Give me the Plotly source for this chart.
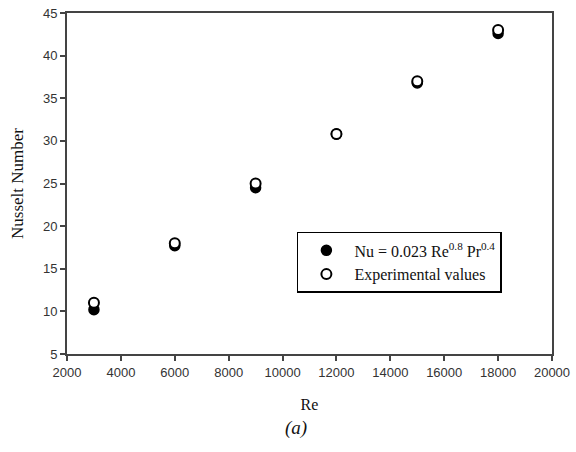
import plotly.graph_objects as go

re_values = [3000, 6000, 9000, 12000, 15000, 18000]
nu_correlation = [10.2, 17.7, 24.5, 30.8, 36.8, 42.6]
nu_experimental = [11.0, 18.0, 25.0, 30.8, 37.0, 43.0]

x_ticks = [2000, 4000, 6000, 8000, 10000, 12000, 14000, 16000, 18000, 20000]
y_ticks = [5, 10, 15, 20, 25, 30, 35, 40, 45]

fig = go.Figure()
fig.add_trace(go.Scatter(
    x=re_values, y=nu_correlation, mode="markers",
    name="Nu = 0.023 Re<sup>0.8</sup> Pr<sup>0.4</sup>", legendgroup="a",
    marker=dict(symbol="circle", size=10, color="black", line=dict(color="black", width=1.5)),
))
fig.add_trace(go.Scatter(
    x=re_values, y=nu_experimental, mode="markers",
    name="Experimental values", legendgroup="b",
    marker=dict(symbol="circle", size=10, color="white", line=dict(color="black", width=2)),
))

axis_common = dict(
    showline=True, linecolor="#444", linewidth=2, mirror=True,
    ticks="outside", ticklen=5, tickwidth=1.5, tickcolor="#444",
    showgrid=False, zeroline=False, automargin=False,
    tickfont=dict(family="Liberation Sans, Arial, sans-serif", size=13, color="#333"),
)

serif = "Liberation Serif, Times New Roman, serif"

fig.update_layout(
    width=576, height=452,
    margin=dict(l=67, r=24, t=13, b=98),
    paper_bgcolor="white", plot_bgcolor="white",
    showlegend=True,
    legend=dict(
        x=0.474, y=0.358, xanchor="left", yanchor="top",
        bgcolor="white", bordercolor="black", borderwidth=1.5,
        font=dict(family=serif, size=16, color="#111"),
        itemwidth=46, tracegroupgap=0,
    ),
    xaxis=dict(
        range=[2000, 20000], tickvals=x_ticks, ticktext=[str(v) for v in x_ticks],
        title=dict(text="Re", standoff=20, font=dict(family=serif, size=16, color="#111")),
        **axis_common,
    ),
    yaxis=dict(
        range=[5, 45], tickvals=y_ticks, ticktext=[str(v) for v in y_ticks],
        title=dict(text="Nusselt Number", standoff=15, font=dict(family=serif, size=17, color="#111")),
        **axis_common,
    ),
    annotations=[dict(
        text="<i>(a)</i>", xref="paper", yref="paper", x=0.472, y=-0.218,
        xanchor="center", yanchor="middle", showarrow=False,
        font=dict(family=serif, size=19, color="#111"),
    )],
)

fig.write_html("out.html", config={"displayModeBar": False},
               post_script="document.body.style.margin='0';")
